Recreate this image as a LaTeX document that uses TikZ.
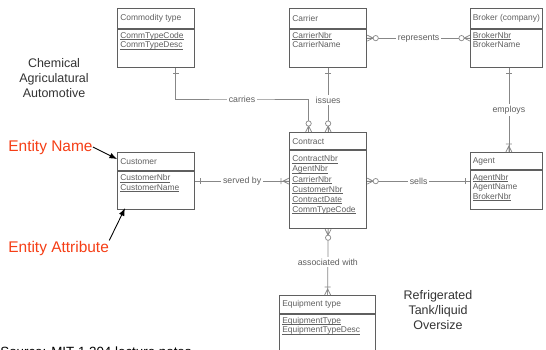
\documentclass[tikz,border=0pt]{standalone}
\usepackage{fontspec}
\setmainfont{Liberation Sans}
\usetikzlibrary{calc}
\definecolor{boxGray}{RGB}{95,95,95}
\definecolor{lineGray}{RGB}{135,135,135}
\definecolor{noteRed}{RGB}{245,62,22}
% key attribute: thin rule just under the baseline
\newcommand{\keyattr}[1]{\setbox0\hbox{#1}\rlap{\rule[-0.6pt]{\wd0}{0.25pt}}\box0}

\tikzset{
  entity/.style 2 args={draw=boxGray, line width=0.7pt, anchor=north west,
    inner sep=0pt, minimum width=#1, minimum height=#2},
  etitle/.style={anchor=west, inner sep=0pt, text=boxGray, font=\fontsize{4.8}{5.5}\selectfont},
  eattr/.style={anchor=north west, inner sep=0pt, align=left, text=boxGray,
    font=\fontsize{4.8}{5.4}\selectfont},
  conn/.style={draw=lineGray, line width=0.4pt},
  lbl/.style={fill=white, inner sep=1pt, text=boxGray, font=\fontsize{5}{6}\selectfont},
  note/.style={align=center, text=black!80, font=\fontsize{7.1}{8.6}\selectfont},
  rednote/.style={anchor=west, inner sep=0pt, text=noteRed, font=\fontsize{8.8}{10}\selectfont},
  % line ends, drawn pointing away from the box
  zeromany/.pic={\draw[lineGray, line width=0.4pt] (0,-3) -- (6,0) -- (0,3) (0,0) -- (6,0);
    \draw[lineGray, line width=0.4pt, fill=white] (8.5,0) circle (1.5pt);},
  onemany/.pic={\draw[lineGray, line width=0.4pt] (0,-3) -- (6,0) -- (0,3) (0,0) -- (6,0)
    (8,-3) -- (8,3);},
  onebar/.pic={\draw[lineGray, line width=0.4pt] (5,-3) -- (5,3);}
}

\begin{document}
\begin{tikzpicture}[x=0.02cm, y=-0.02cm]
  \useasboundingbox (0,0) rectangle (546,349);

  % entities
  \node[entity={1.54cm}{1.18cm}] (comm) at (117,8) {};
  \node[entity={1.54cm}{1.18cm}] (carrier) at (289,8) {};
  \node[entity={1.43cm}{1.18cm}] (broker) at (470,8) {};
  \node[entity={1.54cm}{1.14cm}] (customer) at (117,152) {};
  \node[entity={1.54cm}{1.92cm}] (contract) at (289,132) {};
  \node[entity={1.43cm}{1.14cm}] (agent) at (470,152) {};
  \node[entity={1.92cm}{1.4cm}] (equip) at (279,295) {};

  % header lines
  \foreach \b/\h in {comm/21, carrier/21, broker/21, customer/19, contract/18, agent/18, equip/19}
    \draw[boxGray, line width=0.7pt] ($(\b.north west)+(0,\h)$) -- ($(\b.north east)+(0,\h)$);

  \node[etitle] at ($(comm.north west)+(3,10.5)$) {Commodity type};
  \node[eattr] at ($(comm.north west)+(3,24)$) {\keyattr{CommTypeCode}\\\keyattr{CommTypeDesc}};
  \node[etitle] at ($(carrier.north west)+(3,10.5)$) {Carrier};
  \node[eattr] at ($(carrier.north west)+(3,24)$) {\keyattr{CarrierNbr}\\CarrierName};
  \node[etitle] at ($(broker.north west)+(2.5,10.5)$) {Broker (company)};
  \node[eattr] at ($(broker.north west)+(2.5,24)$) {\keyattr{BrokerNbr}\\BrokerName};
  \node[etitle] at ($(customer.north west)+(3,9.5)$) {Customer};
  \node[eattr] at ($(customer.north west)+(3,22.5)$) {\keyattr{CustomerNbr}\\\keyattr{CustomerName}};
  \node[etitle] at ($(contract.north west)+(3,9.5)$) {Contract};
  \node[eattr, font=\fontsize{4.8}{5.7}\selectfont] at ($(contract.north west)+(3,23.5)$)
    {\keyattr{ContractNbr}\\\keyattr{AgentNbr}\\\keyattr{CarrierNbr}\\\keyattr{CustomerNbr}\\
     \keyattr{ContractDate}\\\keyattr{CommTypeCode}};
  \node[etitle] at ($(agent.north west)+(2.5,9.5)$) {Agent};
  \node[eattr] at ($(agent.north west)+(2.5,22)$) {\keyattr{AgentNbr}\\AgentName\\\keyattr{BrokerNbr}};
  \node[etitle] at ($(equip.north west)+(3,9.5)$) {Equipment type};
  \node[eattr] at ($(equip.north west)+(3,22)$) {\keyattr{EquipmentType}\\\keyattr{EquipmentTypeDesc}};

  % relationships
  \coordinate (carriesmid) at (242,99);
  \draw[conn] ($(comm.south)+(19.5,0)$) |- (carriesmid) node[lbl] {carries}
    -| ($(contract.north)+(-19.5,0)$);
  \draw[conn] (carrier.south) -- node[lbl] {issues} (contract.north);
  \draw[conn] (carrier.east) -- node[lbl] {represents} (broker.west |- carrier.east);
  \draw[conn] ($(broker.south)+(2.5,0)$) -- node[lbl, pos=0.5] {employs} ($(agent.north)+(2.5,0)$);
  \draw[conn] (customer.east) -- node[lbl] {served by} (contract.west |- customer.east);
  \draw[conn] (contract.east |- agent.west) -- node[lbl] {sells} (agent.west);
  \draw[conn] (contract.south) -- node[lbl] {associated with} (equip.north);

  \pic[rotate=-90] at ($(comm.south)+(19.5,0)$) {onebar};
  \pic[rotate=90] at ($(contract.north)+(-19.5,0)$) {zeromany};
  \pic[rotate=-90] at (carrier.south) {onebar};
  \pic[rotate=90] at (contract.north) {zeromany};
  \pic at (carrier.east) {zeromany};
  \pic[rotate=180] at (broker.west |- carrier.east) {zeromany};
  \pic[rotate=-90] at ($(broker.south)+(2.5,0)$) {onebar};
  \pic[rotate=90] at ($(agent.north)+(2.5,0)$) {onemany};
  \pic at (customer.east) {onebar};
  \pic[rotate=180] at (contract.west |- customer.east) {onemany};
  \pic at (contract.east |- agent.west) {zeromany};
  \pic[rotate=180] at (agent.west) {onebar};
  \pic[rotate=-90] at (contract.south) {zeromany};
  \pic[rotate=90] at (equip.north) {onemany};

  % side notes
  \node[note] (cargo) at (54,78) {Chemical\\Agriculatural\\Automotive};
  \node[note] (trailers) at (438,310) {Refrigerated\\Tank/liquid\\Oversize};
  \node[rednote] (entname) at (8,147) {Entity Name};
  \node[rednote] (entattr) at (8,248) {Entity Attribute};
  \draw[-latex, line width=0.5pt] (entname.east) -- ($(customer.north west)+(0,7)$);
  \draw[-latex, line width=0.5pt] (entattr.north east) -- ($(customer.south west)+(8,-2)$);
  \node[anchor=north west, inner sep=0pt, font=\fontsize{7.6}{9}\selectfont] (source) at (0,346)
    {Source: MIT 1.204 lecture notes};
\end{tikzpicture}
\end{document}
